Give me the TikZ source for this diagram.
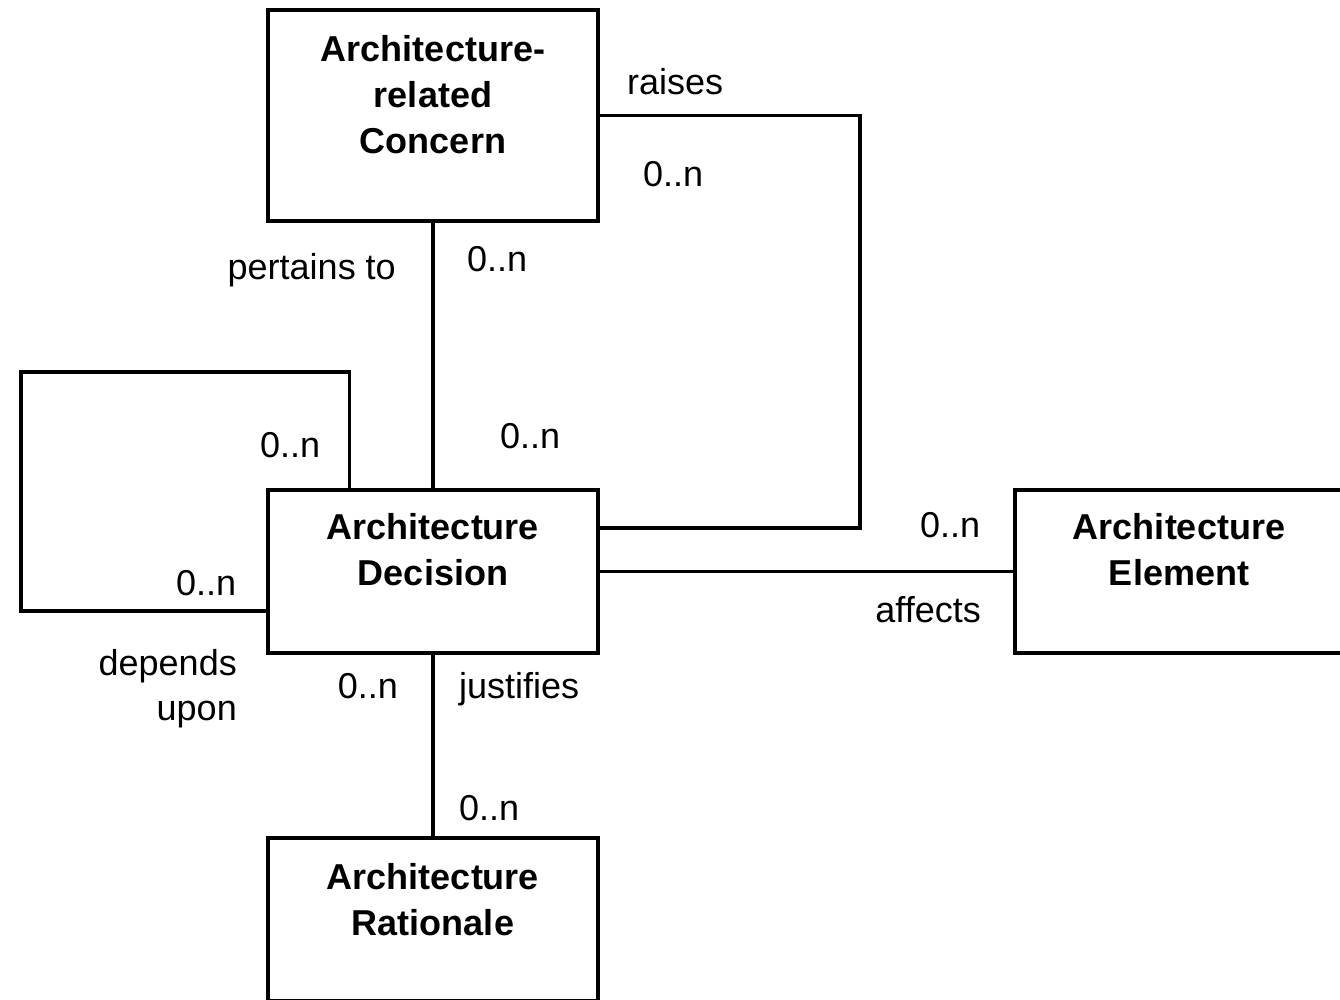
\documentclass[tikz,border=0pt]{standalone}
\usepackage{fontspec}
\setmainfont{Liberation Sans}
\usetikzlibrary{calc}
\begin{document}
\begin{tikzpicture}[x=1pt,y=-1pt,
  entity/.style={draw,line width=3.2pt,rectangle,inner sep=0pt,
    minimum width=330pt},
  title/.style={font=\bfseries\fontsize{36}{46}\selectfont,align=center,
    anchor=north,inner sep=0pt},
  lbl/.style={font=\fontsize{36}{45}\selectfont,inner sep=0pt},
  link/.style={line width=3.2pt,line join=miter}]
\clip (0,0) rectangle (1340,999);
\fill[white] (0,0) rectangle (1340,999);

% entity boxes
\node[entity,minimum height=211pt] (concern) at (433,115.5) {};
\node[entity,minimum height=163pt] (decision) at (433,571.5) {};
\node[entity,minimum height=163pt,minimum width=328pt] (element) at (1179,571.5) {};
\node[entity,minimum height=163pt] (rationale) at (433,919.5) {};

% box titles
\node[title] (tconcern) at (433,35) {Architecture-\\related\\Concern};
\node[title] (tdecision) at (433,513) {Architecture\\Decision};
\node[title] (telement) at (1179,513) {Architecture\\Element};
\node[title] (trationale) at (433,863) {Architecture\\Rationale};

% connectors
\coordinate (raisecorner) at (860,115.5);
\coordinate (loopcorner) at (21,372);
\draw[link] (concern.south) -- (decision.north);
\draw[link] (concern.east) -- (raisecorner) |- ($(decision.east)+(0,-43.5)$);
\draw[link] (decision.east) -- (element.west);
\draw[link] (decision.south) -- (rationale.north);
\draw[link] ($(decision.west)+(0,39.5)$) -| (loopcorner)
  -| ($(decision.north west)+(83,0)$);

% association labels
\node[lbl,anchor=base west] (lraises) at (627,94) {raises};
\node[lbl,anchor=base west] (mraises) at (643,186) {0..n};
\node[lbl,anchor=base east] (lpertains) at (396,279) {pertains to};
\node[lbl,anchor=base west] (mpertainsA) at (467,271) {0..n};
\node[lbl,anchor=base west] (mpertainsB) at (500,448) {0..n};
\node[lbl,anchor=base west] (mloopA) at (260,457) {0..n};
\node[lbl,anchor=base west] (mloopB) at (176,595) {0..n};
\node[lbl,anchor=north east,align=right] (ldepends) at (237,649) {depends\\upon};
\node[lbl,anchor=base west] (maffects) at (920,537) {0..n};
\node[lbl,anchor=base east] (laffects) at (981,622) {affects};
\node[lbl,anchor=base east] (mjustA) at (398,698) {0..n};
\node[lbl,anchor=base west] (ljust) at (459,698) {justifies};
\node[lbl,anchor=base west] (mjustB) at (459,820) {0..n};
\end{tikzpicture}
\end{document}
